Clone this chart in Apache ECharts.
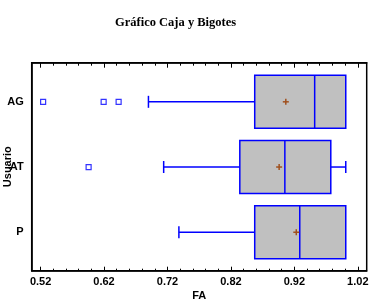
<!DOCTYPE html>
<html>
<head>
<meta charset="utf-8">
<script src="https://cdn.jsdelivr.net/npm/echarts@6/dist/echarts.min.js"></script>
<style>html,body{margin:0;padding:0;background:#fff}#c{width:376px;height:303px}</style>
</head>
<body>
<div id="c"></div>
<script>
// ---- data ----
const categories = ['AG', 'AT', 'P'];
const whiskerLow = [0.690, 0.714, 0.738];
const q1 = [0.8575, 0.834, 0.8575];
const median = [0.952, 0.905, 0.9285];
const q3 = [1.001, 0.9774, 1.001];
const whiskerHigh = [1.001, 1.001, 1.001];
const mean = [0.9065, 0.896, 0.923];
const outlierValues = [0.524, 0.6194, 0.643, 0.5957];
const outlierCategory = ['AG', 'AG', 'AG', 'AT'];
const xTickLabels = [0.52, 0.62, 0.72, 0.82, 0.92, 1.02];
const xMinorTicks = [0.52,0.54,0.56,0.58,0.60,0.62,0.64,0.66,0.68,0.70,0.72,0.74,0.76,0.78,0.80,0.82,0.84,0.86,0.88,0.90,0.92,0.94,0.96,0.98,1.00,1.02];

const BLUE = '#0000FF';
const boxData = categories.map((c, i) => [i + 1, whiskerLow[i], q1[i], median[i], q3[i], whiskerHigh[i], mean[i]]);
const outlierData = outlierValues.map((v, i) => [v, categories.indexOf(outlierCategory[i]) + 1]);

const lab = {fontFamily: 'Arial, Liberation Sans', fontWeight: 'bold', fontSize: 11, color: '#000'};
function xAx(pos, ticks, len, showLabel, showLine) {
  return {
    type: 'value', position: pos, min: 0.506, max: 1.034,
    axisLine: {show: showLine, lineStyle: {color: '#000', width: 1.5}},
    axisTick: {show: true, inside: true, length: len, customValues: ticks, lineStyle: {color: '#000', width: 1}},
    axisLabel: showLabel ? Object.assign({customValues: xTickLabels, margin: 6, formatter: v => v.toFixed(2)}, lab) : {show: false},
    splitLine: {show: false}
  };
}
const xAxes = [
  Object.assign(xAx('bottom', xTickLabels, 4, true, true), {name: 'FA', nameLocation: 'middle', nameGap: 20, nameMoveOverlap: false, nameTextStyle: Object.assign({}, lab)}),
  xAx('bottom', xMinorTicks, 2, false, false),
  xAx('top', xTickLabels, 5, false, true),
  xAx('top', xMinorTicks, 3, false, false)
];

const chart = echarts.init(document.getElementById('c'), null, {renderer: 'canvas'});
chart.setOption({
  animation: false,
  title: {text: 'Gráfico Caja y Bigotes', left: 110, top: 11,
    textStyle: {fontFamily: 'Liberation Serif, Times New Roman, serif', fontWeight: 'bold', fontSize: 12.5, color: '#000'}},
  grid: {left: 31.7, right: 9.3, top: 62.7, bottom: 32.3, show: true, borderColor: '#000', borderWidth: 1.5,
    containLabel: false, outerBoundsMode: 'none'},
  xAxis: xAxes,
  yAxis: [{
    type: 'value', inverse: true, min: 0.4, max: 3.59,
    name: 'Usuario', nameLocation: 'middle', nameGap: 18, nameRotate: 90, nameMoveOverlap: false,
    nameTextStyle: Object.assign({}, lab),
    axisLine: {show: true, lineStyle: {color: '#000', width: 1.5}},
    axisTick: {show: false},
    axisLabel: Object.assign({customValues: [1, 2, 3], margin: 8, formatter: v => categories[Math.round(v) - 1] || ''}, lab),
    splitLine: {show: false}
  }],
  series: [{
    type: 'custom',
    xAxisIndex: 0, yAxisIndex: 0,
    encode: {x: [1, 2, 3, 4, 5, 6], y: 0},
    data: boxData,
    renderItem: function (params, api) {
      const y = api.value(0);
      const lo = api.coord([api.value(1), y]);
      const a = api.coord([api.value(2), y]);
      const md = api.coord([api.value(3), y]);
      const b = api.coord([api.value(4), y]);
      const hi = api.coord([api.value(5), y]);
      const mn = api.coord([api.value(6), y]);
      const h = api.size([0, 0.813])[1];
      const cap = 6;
      const cy = a[1];
      const ls = {stroke: BLUE, lineWidth: 1.5};
      const children = [
        {type: 'line', shape: {x1: lo[0], y1: cy, x2: a[0], y2: cy}, style: ls},
        {type: 'line', shape: {x1: lo[0], y1: cy - cap, x2: lo[0], y2: cy + cap}, style: ls},
        {type: 'line', shape: {x1: b[0], y1: cy, x2: hi[0], y2: cy}, style: ls},
        {type: 'rect', shape: {x: a[0], y: cy - h / 2, width: b[0] - a[0], height: h}, style: {fill: '#C0C0C0', stroke: BLUE, lineWidth: 1.5}},
        {type: 'line', shape: {x1: md[0], y1: cy - h / 2, x2: md[0], y2: cy + h / 2}, style: ls},
        {type: 'line', shape: {x1: mn[0] - 3, y1: cy, x2: mn[0] + 3, y2: cy}, style: {stroke: '#A0501E', lineWidth: 1.5}},
        {type: 'line', shape: {x1: mn[0], y1: cy - 3, x2: mn[0], y2: cy + 3}, style: {stroke: '#A0501E', lineWidth: 1.5}}
      ];
      if (hi[0] - b[0] > 1) {
        children.push({type: 'line', shape: {x1: hi[0], y1: cy - cap, x2: hi[0], y2: cy + cap}, style: ls});
      }
      return {type: 'group', children: children};
    }
  }, {
    type: 'scatter',
    xAxisIndex: 0, yAxisIndex: 0,
    symbol: 'rect', symbolSize: 5,
    itemStyle: {color: '#fff', borderColor: BLUE, borderWidth: 1.2},
    data: outlierData
  }]
});
</script>
</body>
</html>
